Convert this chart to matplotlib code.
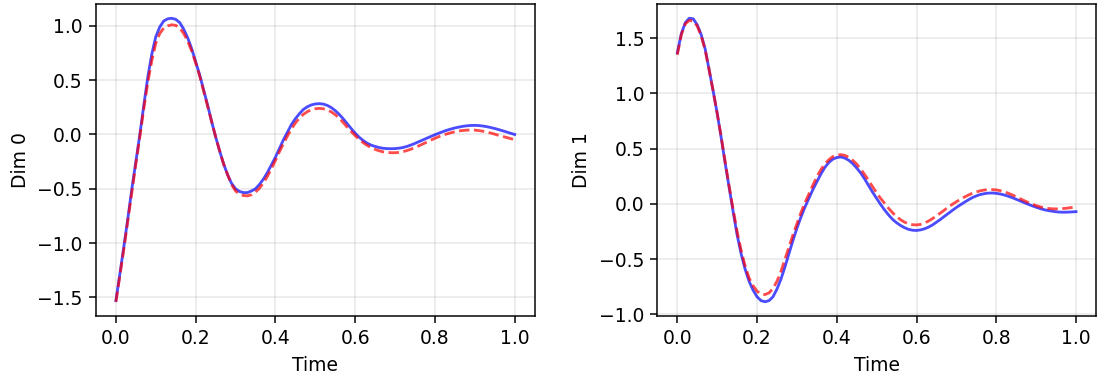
import matplotlib
matplotlib.use('Agg')
import matplotlib.pyplot as plt

time = [i / 100 for i in range(101)]

# Dim 0
dim0_true = [-1.53, -1.28, -1.03, -0.77, -0.50, -0.25, 0.00, 0.27, 0.53, 0.74,
             0.90, 0.99, 1.045, 1.065, 1.07, 1.06, 1.03, 0.97, 0.89, 0.79,
             0.67, 0.55, 0.41, 0.27, 0.12, -0.02, -0.15, -0.27, -0.37, -0.45,
             -0.50, -0.525, -0.535, -0.535, -0.52, -0.50, -0.46, -0.41, -0.35, -0.28,
             -0.21, -0.13, -0.05, 0.02, 0.09, 0.145, 0.19, 0.23, 0.255, 0.272,
             0.281, 0.284, 0.28, 0.268, 0.248, 0.22, 0.185, 0.145, 0.10, 0.055,
             0.012, -0.025, -0.055, -0.08, -0.098, -0.11, -0.12, -0.127, -0.13, -0.131,
             -0.13, -0.126, -0.12, -0.11, -0.097, -0.082, -0.066, -0.05, -0.034, -0.018,
             -0.003, 0.012, 0.026, 0.039, 0.05, 0.06, 0.068, 0.075, 0.08, 0.083,
             0.084, 0.082, 0.078, 0.072, 0.064, 0.055, 0.045, 0.034, 0.023, 0.011,
             0.0]
dim0_pred = [-1.54, -1.30, -1.05, -0.79, -0.53, -0.27, -0.02, 0.24, 0.48, 0.68,
             0.84, 0.93, 0.98, 1.00, 1.01, 1.005, 0.98, 0.93, 0.86, 0.77,
             0.66, 0.54, 0.40, 0.26, 0.12, -0.02, -0.15, -0.27, -0.37, -0.46,
             -0.52, -0.55, -0.562, -0.565, -0.555, -0.53, -0.495, -0.445, -0.385, -0.315,
             -0.24, -0.16, -0.085, -0.015, 0.05, 0.105, 0.15, 0.185, 0.21, 0.228,
             0.237, 0.24, 0.237, 0.226, 0.208, 0.183, 0.15, 0.11, 0.068, 0.028,
             -0.01, -0.045, -0.075, -0.10, -0.12, -0.137, -0.15, -0.16, -0.165, -0.168,
             -0.168, -0.165, -0.158, -0.148, -0.135, -0.12, -0.104, -0.087, -0.07, -0.052,
             -0.035, -0.02, -0.007, 0.005, 0.016, 0.025, 0.032, 0.037, 0.04, 0.041,
             0.04, 0.036, 0.03, 0.022, 0.013, 0.003, -0.008, -0.018, -0.028, -0.038,
             -0.048]

# Dim 1
dim1_true = [1.367, 1.54, 1.64, 1.68, 1.675, 1.62, 1.53, 1.40, 1.21, 1.02,
             0.82, 0.60, 0.37, 0.15, -0.07, -0.28, -0.45, -0.59, -0.70, -0.78,
             -0.84, -0.875, -0.885, -0.875, -0.84, -0.77, -0.68, -0.57, -0.45, -0.33,
             -0.22, -0.12, -0.03, 0.05, 0.13, 0.20, 0.27, 0.33, 0.375, 0.405,
             0.42, 0.425, 0.415, 0.395, 0.365, 0.325, 0.28, 0.225, 0.165, 0.105,
             0.05, -0.005, -0.055, -0.10, -0.14, -0.17, -0.195, -0.215, -0.23, -0.238,
             -0.24, -0.235, -0.225, -0.21, -0.19, -0.165, -0.14, -0.112, -0.085, -0.058,
             -0.032, -0.008, 0.015, 0.037, 0.057, 0.073, 0.085, 0.093, 0.098, 0.099,
             0.096, 0.09, 0.081, 0.07, 0.057, 0.042, 0.027, 0.012, -0.003, -0.017,
             -0.03, -0.042, -0.052, -0.06, -0.066, -0.071, -0.074, -0.075, -0.074, -0.072,
             -0.07]
dim1_pred = [1.35, 1.53, 1.63, 1.66, 1.655, 1.61, 1.52, 1.39, 1.21, 1.02,
             0.82, 0.61, 0.38, 0.16, -0.05, -0.25, -0.42, -0.56, -0.67, -0.74,
             -0.79, -0.815, -0.82, -0.805, -0.765, -0.70, -0.61, -0.50, -0.39, -0.28,
             -0.18, -0.08, 0.01, 0.09, 0.17, 0.245, 0.31, 0.36, 0.40, 0.428,
             0.442, 0.446, 0.44, 0.422, 0.395, 0.36, 0.315, 0.265, 0.21, 0.155,
             0.10, 0.05, 0.005, -0.04, -0.08, -0.115, -0.143, -0.165, -0.18, -0.188,
             -0.19, -0.185, -0.173, -0.155, -0.133, -0.108, -0.082, -0.055, -0.028, -0.003,
             0.02, 0.042, 0.062, 0.08, 0.096, 0.109, 0.119, 0.126, 0.13, 0.13,
             0.127, 0.12, 0.11, 0.097, 0.082, 0.065, 0.047, 0.03, 0.013, -0.002,
             -0.015, -0.026, -0.035, -0.041, -0.044, -0.045, -0.044, -0.041, -0.037, -0.032,
             -0.027]

series = [(dim0_true, dim0_pred, 'Dim 0'), (dim1_true, dim1_pred, 'Dim 1')]

fig, axes = plt.subplots(1, 2, figsize=(8.267, 2.793), dpi=135)
for ax, (true_vals, pred_vals, name) in zip(axes, series):
    ax.plot(time, true_vals, color='b', linewidth=1.5, alpha=0.7)
    ax.plot(time, pred_vals, color='r', linestyle='--', linewidth=1.5, alpha=0.7)
    ax.set_xlabel('Time')
    ax.set_ylabel(name)
    ax.grid(True, alpha=0.3)

plt.subplots_adjust(left=0.086, right=0.982, top=0.989, bottom=0.162, wspace=0.28)
fig.savefig('out.png', dpi=135)
